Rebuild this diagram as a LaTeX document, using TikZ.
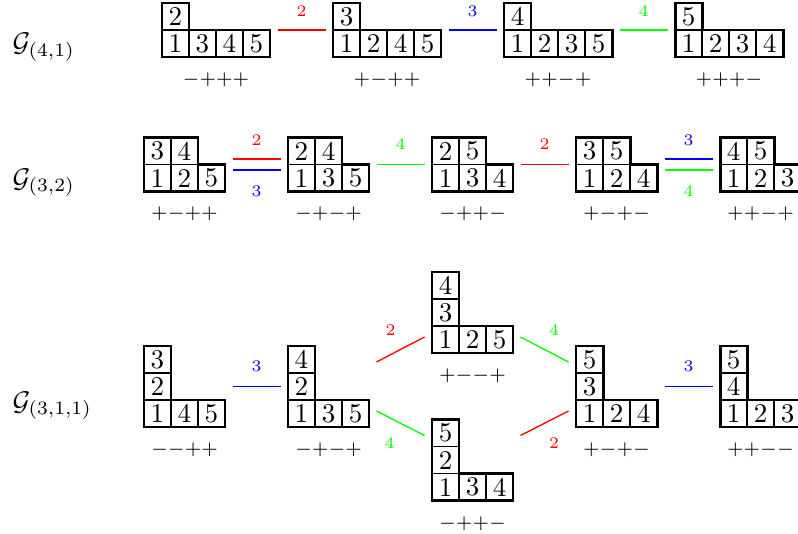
\documentclass[tikz,border=0pt]{standalone}
\usetikzlibrary{calc}
\definecolor{eRed}{rgb}{1,0,0}
\definecolor{eBlue}{rgb}{0,0,1}
\definecolor{eGreen}{rgb}{0,1,0}
\tikzset{
  cell/.style={draw, line width=0.7pt, minimum size=9.99pt, inner sep=0pt, outer sep=0pt, font=\fontsize{10}{12}\selectfont},
  outline/.style={line width=1.1pt, line join=miter},
  tbox/.style={inner sep=0pt, outer sep=0pt, anchor=south west},
  sgn/.style={inner sep=0pt, font=\fontsize{7.5}{9}\selectfont},
  elab/.style={inner sep=0pt, font=\fontsize{6}{7}\selectfont},
  glab/.style={inner sep=0pt, anchor=base west, font=\fontsize{10}{12}\selectfont},
  eR/.style={draw=eRed, line width=0.5pt},
  eB/.style={draw=eBlue, line width=0.5pt},
  eG/.style={draw=eGreen, line width=0.5pt},
}
\newcommand\cellrow[4]{\foreach \d [count=\i from 0] in {#4}{\node[cell] (#1\i) at ({#2+13.5+27*\i},{#3}) {\d};}}
% shape (4,1)
\newcommand\tabA[6]{%
  \cellrow{#1a}{#2}{#3-13.5}{#4}
  \cellrow{#1b}{#2}{#3-40.5}{#5}
  \draw[outline] (#2,#3) -- ++(108,0) -- ++(0,-27) -- ++(-81,0) -- ++(0,-27) -- ++(-27,0) -- cycle;
  \node[tbox, minimum width=39.96pt, minimum height=19.98pt] (#1) at (#2,#3) {};
  \node[sgn] (#1s) at ([yshift=-8.5pt]#1.south) {$#6$};}
% shape (3,2)
\newcommand\tabB[6]{%
  \cellrow{#1a}{#2}{#3-13.5}{#4}
  \cellrow{#1b}{#2}{#3-40.5}{#5}
  \draw[outline] (#2,#3) -- ++(81,0) -- ++(0,-27) -- ++(-27,0) -- ++(0,-27) -- ++(-54,0) -- cycle;
  \node[tbox, minimum width=29.97pt, minimum height=19.98pt] (#1) at (#2,#3) {};
  \node[sgn] (#1s) at ([yshift=-8.2pt]#1.south) {$#6$};}
% shape (3,1,1)
\newcommand\tabC[7]{%
  \cellrow{#1a}{#2}{#3-13.5}{#4}
  \cellrow{#1b}{#2}{#3-40.5}{#5}
  \cellrow{#1c}{#2}{#3-67.5}{#6}
  \draw[outline] (#2,#3) -- ++(81,0) -- ++(0,-27) -- ++(-54,0) -- ++(0,-54) -- ++(-27,0) -- cycle;
  \node[tbox, minimum width=29.97pt, minimum height=29.97pt] (#1) at (#2,#3) {};
  \node[sgn] (#1s) at ([yshift=-8.5pt]#1.south) {$#7$};}
\begin{document}
\begin{tikzpicture}[x=0.37pt, y=-0.37pt]
\useasboundingbox (0,0) rectangle (798,533);
\clip (0,0) rectangle (798,533);
% labels
\node[glab] (g1) at (12,52) {$\mathcal{G}_{(4,1)}$};
\node[glab] (g2) at (12,187) {$\mathcal{G}_{(3,2)}$};
\node[glab] (g3) at (12,410) {$\mathcal{G}_{(3,1,1)}$};
% row 1
\tabA{Ta}{162}{57}{1,3,4,5}{2}{{-}{+}{+}{+}}
\tabA{Tb}{333}{57}{1,2,4,5}{3}{{+}{-}{+}{+}}
\tabA{Tc}{504}{57}{1,2,3,5}{4}{{+}{+}{-}{+}}
\tabA{Td}{675}{57}{1,2,3,4}{5}{{+}{+}{+}{-}}
\draw[eR] ([shift={(7.5,0)}]Ta.east) -- node[elab, text=eRed, shift={(0,-19)}] (la1) {2} ([shift={(-7.5,0)}]Tb.west);
\draw[eB] ([shift={(7.5,0)}]Tb.east) -- node[elab, text=eBlue, shift={(0,-19)}] (la2) {3} ([shift={(-7.5,0)}]Tc.west);
\draw[eG] ([shift={(7.5,0)}]Tc.east) -- node[elab, text=eGreen, shift={(0,-19)}] (la3) {4} ([shift={(-7.5,0)}]Td.west);
% row 2
\tabB{Ua}{144}{191.5}{1,2,5}{3,4}{{+}{-}{+}{+}}
\tabB{Ub}{288}{191.5}{1,3,5}{2,4}{{-}{+}{-}{+}}
\tabB{Uc}{432}{191.5}{1,3,4}{2,5}{{-}{+}{+}{-}}
\tabB{Ud}{576}{191.5}{1,2,4}{3,5}{{+}{-}{+}{-}}
\tabB{Ue}{720}{191.5}{1,2,3}{4,5}{{+}{+}{-}{+}}
\draw[eR] ([shift={(7.5,-5.5)}]Ua.east) -- node[elab, text=eRed, shift={(0,-19)}] (lb1) {2} ([shift={(-7.5,-5.5)}]Ub.west);
\draw[eB] ([shift={(7.5,5.5)}]Ua.east) -- node[elab, text=eBlue, shift={(0,21)}] (lb2) {3} ([shift={(-7.5,5.5)}]Ub.west);
\draw[eG] ([shift={(7.5,0)}]Ub.east) -- node[elab, text=eGreen, shift={(0,-20)}] (lb3) {4} ([shift={(-7.5,0)}]Uc.west);
\draw[eR] ([shift={(7.5,0)}]Uc.east) -- node[elab, text=eRed, shift={(0,-20)}] (lb4) {2} ([shift={(-7.5,0)}]Ud.west);
\draw[eB] ([shift={(7.5,-5.5)}]Ud.east) -- node[elab, text=eBlue, shift={(0,-19)}] (lb5) {3} ([shift={(-7.5,-5.5)}]Ue.west);
\draw[eG] ([shift={(7.5,5.5)}]Ud.east) -- node[elab, text=eGreen, shift={(0,21)}] (lb6) {4} ([shift={(-7.5,5.5)}]Ue.west);
% row 3
\tabC{Va}{144}{427}{1,4,5}{2}{3}{{-}{-}{+}{+}}
\tabC{Vb}{288}{427}{1,3,5}{2}{4}{{-}{+}{-}{+}}
\tabC{Vu}{432}{353}{1,2,5}{3}{4}{{+}{-}{-}{+}}
\tabC{Vl}{432}{500.5}{1,3,4}{2}{5}{{-}{+}{+}{-}}
\tabC{Vd}{576}{427}{1,2,4}{3}{5}{{+}{-}{+}{-}}
\tabC{Ve}{720}{427}{1,2,3}{4}{5}{{+}{+}{-}{-}}
\draw[eB] ([shift={(7.5,0)}]Va.east) -- node[elab, text=eBlue, shift={(0,-20)}] (lc1) {3} ([shift={(-7.5,0)}]Vb.west);
\draw[eR] ([shift={(7.5,-24.5)}]Vb.east) -- node[elab, text=eRed, shift={(-10,-19.5)}] (lc2) {2} ([shift={(-7.5,24.5)}]Vu.west);
\draw[eG] ([shift={(7.5,24.5)}]Vb.east) -- node[elab, text=eGreen, shift={(-11,20)}] (lc3) {4} ([shift={(-7.5,-24.5)}]Vl.west);
\draw[eG] ([shift={(7.5,24.5)}]Vu.east) -- node[elab, text=eGreen, shift={(9.5,-19.5)}] (lc4) {4} ([shift={(-7.5,-24.5)}]Vd.west);
\draw[eR] ([shift={(7.5,-24.5)}]Vl.east) -- node[elab, text=eRed, shift={(9.5,20)}] (lc5) {2} ([shift={(-7.5,24.5)}]Vd.west);
\draw[eB] ([shift={(7.5,0)}]Vd.east) -- node[elab, text=eBlue, shift={(0,-20)}] (lc6) {3} ([shift={(-7.5,0)}]Ve.west);
\end{tikzpicture}
\end{document}
